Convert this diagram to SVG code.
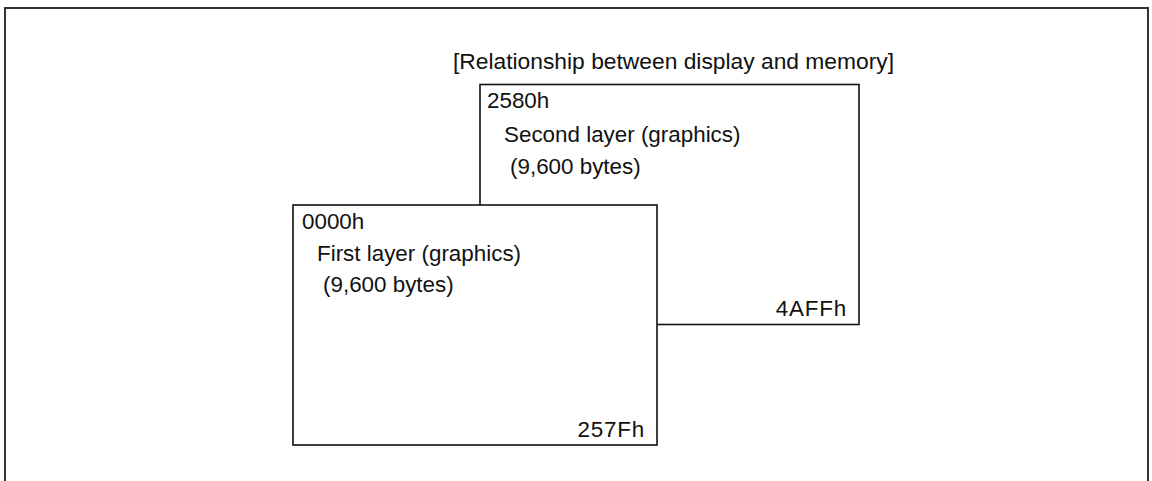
<svg xmlns="http://www.w3.org/2000/svg" width="1152" height="481" viewBox="0 0 1152 481">
<style>
.t{font-family:"Liberation Sans",Arial,sans-serif;font-size:22.4px;fill:#111}
.box{fill:#fff;stroke:#111;stroke-width:1.6}
</style>
<rect width="1152" height="481" fill="#fff"/>
<path d="M5,481 V8 H1148 V481" fill="none" stroke="#333" stroke-width="2"/>
<text class="t" x="453" y="69" style="font-size:22.8px">[Relationship between display and memory]</text>
<g id="second-layer">
<rect class="box" x="480" y="84.5" width="379" height="240"/>
<text class="t" x="487" y="108">2580h</text>
<text class="t" x="504" y="142">Second layer (graphics)</text>
<text class="t" x="510" y="174">(9,600 bytes)</text>
<text class="t" x="847" y="316" text-anchor="end" letter-spacing="0.8">4AFFh</text>
</g>
<g id="first-layer">
<rect class="box" x="293" y="205" width="364" height="240"/>
<text class="t" x="302" y="229">0000h</text>
<text class="t" x="317" y="261">First layer (graphics)</text>
<text class="t" x="323" y="292">(9,600 bytes)</text>
<text class="t" x="645" y="437" text-anchor="end" letter-spacing="0.8">257Fh</text>
</g>
<g id="connectors"></g>
</svg>
